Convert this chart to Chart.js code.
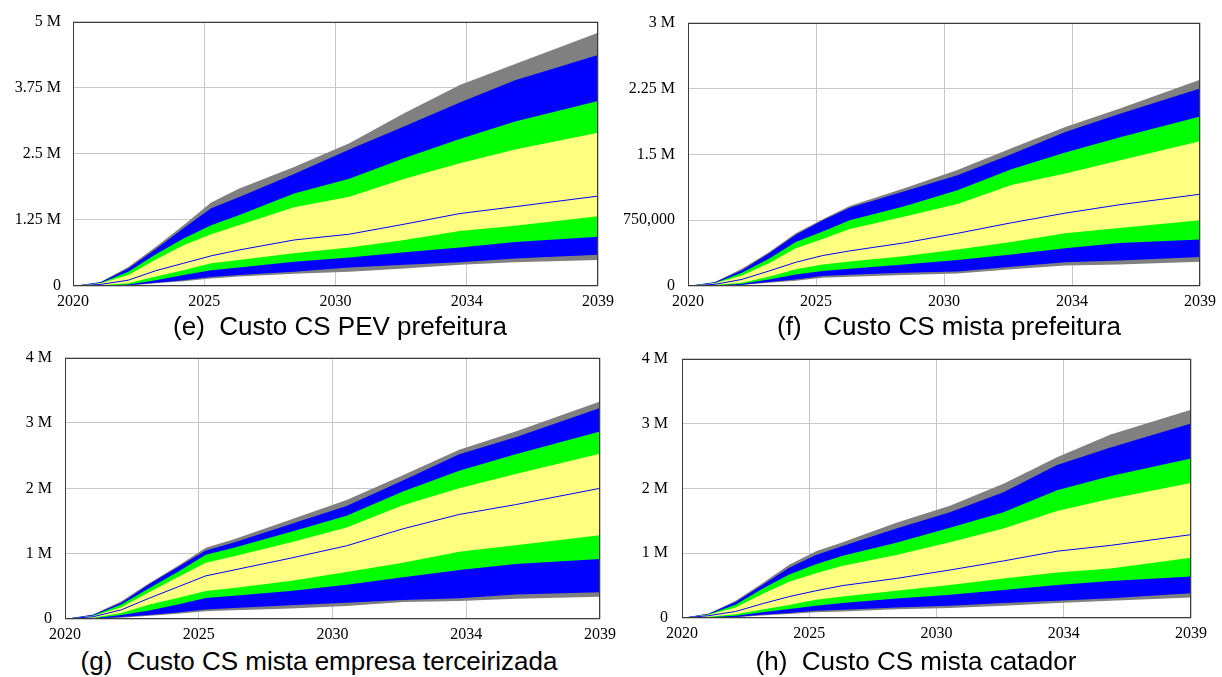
<!DOCTYPE html>
<html>
<head>
<meta charset="utf-8">
<script src="https://cdn.jsdelivr.net/npm/chart.js@4.4.0/dist/chart.umd.min.js"></script>
<style>
    body { margin: 0; background: #fff; width: 1222px; height: 677px; position: relative; overflow: hidden; }
    canvas { position: absolute; }
    .caption {
        position: absolute;
        font-family: 'Liberation Sans', Arial, sans-serif;
        font-size: 26px;
        color: #000;
        white-space: pre;
        transform: translateX(-50%);
        line-height: 28px;
    }
</style>
</head>
<body>
<canvas id="chartE" width="622" height="312" style="left:0px;top:0px"></canvas>
<canvas id="chartF" width="612" height="312" style="left:610px;top:0px"></canvas>
<canvas id="chartG" width="622" height="310" style="left:0px;top:335px"></canvas>
<canvas id="chartH" width="610" height="310" style="left:612px;top:335px"></canvas>

<div class="caption" style="left:340px;top:312px">(e)  Custo CS PEV prefeitura</div>
<div class="caption" style="left:949px;top:312px">(f)   Custo CS mista prefeitura</div>
<div class="caption" style="left:319px;top:647px">(g)  Custo CS mista empresa terceirizada</div>
<div class="caption" style="left:916px;top:647px">(h)  Custo CS mista catador</div>

<script>
// Time points (years) and x tick labels
const years = [2020, 2021, 2022, 2023, 2024, 2025, 2026, 2028, 2030, 2032, 2034, 2036, 2039];
const xTickLabels = ['2020', '2025', '2030', '2034', '2039'];

// (e) Custo CS PEV prefeitura - values in millions
const eMax  = [0, 0.075, 0.36, 0.74, 1.15, 1.58, 1.84, 2.25, 2.70, 3.27, 3.80, 4.20, 4.79];
const eP975 = [0, 0.070, 0.33, 0.70, 1.09, 1.47, 1.68, 2.12, 2.58, 3.02, 3.47, 3.89, 4.37];
const eP875 = [0, 0.057, 0.27, 0.60, 0.90, 1.15, 1.34, 1.75, 2.03, 2.42, 2.78, 3.11, 3.50];
const eP75  = [0, 0.050, 0.21, 0.50, 0.77, 0.98, 1.15, 1.49, 1.69, 2.03, 2.32, 2.58, 2.90];
const eMed  = [0, 0.030, 0.11, 0.29, 0.43, 0.57, 0.68, 0.87, 0.98, 1.17, 1.37, 1.50, 1.70];
const eP25  = [0, 0.013, 0.05, 0.18, 0.30, 0.43, 0.49, 0.62, 0.73, 0.87, 1.04, 1.14, 1.32];
const eP125 = [0, 0.006, 0.03, 0.11, 0.21, 0.30, 0.35, 0.46, 0.54, 0.64, 0.73, 0.83, 0.93];
const eP025 = [0, 0.003, 0.013, 0.06, 0.11, 0.17, 0.21, 0.27, 0.35, 0.40, 0.45, 0.52, 0.59];
const eMin  = [0, 0, 0.006, 0.05, 0.09, 0.14, 0.18, 0.23, 0.27, 0.33, 0.40, 0.45, 0.49];
const eTickLabels = ['0', '1.25 M', '2.5 M', '3.75 M', '5 M'];

// (f) Custo CS mista prefeitura
const fMax  = [0, 0.045, 0.196, 0.385, 0.60, 0.76, 0.91, 1.11, 1.32, 1.57, 1.81, 2.02, 2.35];
const fP975 = [0, 0.042, 0.18, 0.37, 0.585, 0.75, 0.89, 1.075, 1.26, 1.50, 1.755, 1.96, 2.25];
const fP875 = [0, 0.035, 0.15, 0.31, 0.50, 0.62, 0.75, 0.905, 1.09, 1.33, 1.52, 1.69, 1.93];
const fP75  = [0, 0.030, 0.12, 0.26, 0.43, 0.535, 0.65, 0.79, 0.935, 1.15, 1.28, 1.43, 1.65];
const fMed  = [0, 0.019, 0.075, 0.17, 0.27, 0.347, 0.40, 0.49, 0.60, 0.72, 0.83, 0.925, 1.045];
const fP25  = [0, 0.010, 0.038, 0.106, 0.19, 0.245, 0.28, 0.34, 0.415, 0.50, 0.60, 0.66, 0.75];
const fP125 = [0, 0.006, 0.026, 0.075, 0.13, 0.17, 0.196, 0.245, 0.295, 0.36, 0.43, 0.49, 0.53];
const fP025 = [0, 0.003, 0.015, 0.045, 0.075, 0.113, 0.128, 0.15, 0.166, 0.22, 0.27, 0.29, 0.33];
const fMin  = [0, 0.001, 0.011, 0.038, 0.06, 0.094, 0.106, 0.125, 0.143, 0.19, 0.234, 0.245, 0.275];
const fTickLabels = ['0', '750,000', '1.5 M', '2.25 M', '3 M'];

// (g) Custo CS mista empresa terceirizada
const gMax  = [0, 0.070, 0.27, 0.55, 0.81, 1.09, 1.22, 1.52, 1.82, 2.20, 2.59, 2.87, 3.33];
const gP975 = [0, 0.065, 0.25, 0.535, 0.79, 1.05, 1.17, 1.45, 1.73, 2.12, 2.52, 2.78, 3.23];
const gP875 = [0, 0.055, 0.22, 0.475, 0.72, 0.985, 1.09, 1.33, 1.58, 1.95, 2.27, 2.52, 2.87];
const gP75  = [0, 0.045, 0.18, 0.415, 0.64, 0.86, 0.96, 1.17, 1.40, 1.74, 2.00, 2.22, 2.53];
const gMed  = [0, 0.035, 0.14, 0.32, 0.49, 0.66, 0.75, 0.93, 1.12, 1.38, 1.60, 1.75, 2.00];
const gP25  = [0, 0.020, 0.09, 0.22, 0.32, 0.43, 0.475, 0.58, 0.72, 0.86, 1.03, 1.13, 1.28];
const gP125 = [0, 0.012, 0.06, 0.13, 0.22, 0.32, 0.356, 0.43, 0.525, 0.64, 0.75, 0.84, 0.92];
const gP025 = [0, 0.005, 0.03, 0.06, 0.10, 0.145, 0.17, 0.21, 0.25, 0.29, 0.317, 0.376, 0.41];
const gMin  = [0, 0.003, 0.02, 0.05, 0.08, 0.12, 0.134, 0.16, 0.20, 0.26, 0.277, 0.31, 0.34];
const gTickLabels = ['0', '1 M', '2 M', '3 M', '4 M'];

// (h) Custo CS mista catador
const hMax  = [0, 0.070, 0.265, 0.535, 0.82, 1.03, 1.17, 1.47, 1.73, 2.07, 2.48, 2.83, 3.21];
const hP975 = [0, 0.066, 0.245, 0.51, 0.775, 0.97, 1.11, 1.38, 1.63, 1.94, 2.36, 2.63, 3.00];
const hP875 = [0, 0.056, 0.204, 0.45, 0.67, 0.83, 0.96, 1.16, 1.39, 1.63, 1.97, 2.19, 2.46];
const hP75  = [0, 0.050, 0.163, 0.37, 0.56, 0.69, 0.806, 0.97, 1.17, 1.38, 1.65, 1.84, 2.08];
const hMed  = [0, 0.036, 0.10, 0.22, 0.33, 0.42, 0.50, 0.61, 0.74, 0.88, 1.03, 1.12, 1.285];
const hP25  = [0, 0.020, 0.056, 0.13, 0.20, 0.28, 0.33, 0.42, 0.51, 0.61, 0.70, 0.765, 0.93];
const hP125 = [0, 0.012, 0.036, 0.087, 0.14, 0.19, 0.23, 0.30, 0.36, 0.43, 0.51, 0.57, 0.64];
const hP025 = [0, 0.005, 0.015, 0.05, 0.077, 0.11, 0.128, 0.163, 0.19, 0.23, 0.265, 0.306, 0.38];
const hMin  = [0, 0.002, 0.01, 0.04, 0.06, 0.09, 0.10, 0.133, 0.153, 0.19, 0.23, 0.265, 0.316];
const hTickLabels = ['0', '1 M', '2 M', '3 M', '4 M'];

const GRAY = '#808080';
const BLUE = '#0000ff';
const GREEN = '#00ff00';
const YELLOW = '#ffff80';
const AXIS_FONT = { family: "'Liberation Serif', 'Times New Roman', serif", size: 16 };

/**
 * Draws the box around the plot area
 */
const framePlugin = {
    id: 'frame',
    afterDraw(chart) {
        const a = chart.chartArea;
        const ctx = chart.ctx;
        ctx.save();
        ctx.strokeStyle = '#3c3c3c';
        ctx.lineWidth = 1;
        ctx.strokeRect(Math.round(a.left) + 0.5, Math.round(a.top) + 0.5,
            Math.round(a.right - a.left) - 1, Math.round(a.bottom - a.top) - 1);
        ctx.restore();
    }
};

function points(values) {
    return values.map((v, i) => ({ x: years[i], y: v }));
}

// one band = upper line filled down to the lower line
function band(upper, lower, color, order, lowerIndex) {
    return [
        { data: points(upper), backgroundColor: color, borderWidth: 0, pointRadius: 0,
          fill: { target: lowerIndex }, order: order },
        { data: points(lower), backgroundColor: color, borderWidth: 0, pointRadius: 0,
          fill: false, order: order }
    ];
}

function buildBandChart(canvasId, s, yMax, yLabels, box) {
    const datasets = [
        { data: points(s.med), borderColor: BLUE, borderWidth: 1, pointRadius: 0, fill: false, order: 0 },
        ...band(s.p75, s.p25, YELLOW, 1, 2),
        ...band(s.p875, s.p125, GREEN, 2, 4),
        ...band(s.p975, s.p025, BLUE, 3, 6),
        ...band(s.max, s.min, GRAY, 4, 8)
    ];

    new Chart(document.getElementById(canvasId), {
        type: 'line',
        data: { datasets: datasets },
        plugins: [framePlugin],
        options: {
            responsive: false,
            animation: false,
            layout: { padding: { left: 0, top: box.top, right: box.right, bottom: 0 } },
            plugins: { legend: { display: false }, tooltip: { enabled: false } },
            elements: { line: { tension: 0 } },
            scales: {
                x: {
                    type: 'linear',
                    min: 2020,
                    max: 2039,
                    z: 1,
                    border: { display: false },
                    grid: { color: '#c8c8c8', drawTicks: false, lineWidth: 1 },
                    afterBuildTicks: scale => {
                        scale.ticks = xTickLabels.map((l, i) => ({ value: 2020 + i * (2039 - 2020) / 4 }));
                    },
                    afterFit: scale => { scale.height = box.xHeight; },
                    ticks: {
                        autoSkip: false,
                        maxRotation: 0,
                        padding: 6,
                        color: '#000',
                        font: AXIS_FONT,
                        callback: (value, index) => xTickLabels[index]
                    }
                },
                y: {
                    min: 0,
                    max: yMax,
                    z: 1,
                    border: { display: false },
                    grid: { color: '#c8c8c8', drawTicks: false, lineWidth: 1 },
                    afterBuildTicks: scale => {
                        scale.ticks = yLabels.map((l, i) => ({ value: i * yMax / 4 }));
                    },
                    afterFit: scale => { scale.width = box.yWidth; },
                    ticks: {
                        padding: box.labelPad,
                        color: '#000',
                        font: AXIS_FONT,
                        callback: (value, index) => yLabels[index]
                    }
                }
            }
        }
    });
}

document.addEventListener('DOMContentLoaded', function() {
    buildBandChart('chartE',
        { max: eMax, p975: eP975, p875: eP875, p75: eP75, med: eMed, p25: eP25, p125: eP125, p025: eP025, min: eMin },
        5, eTickLabels, { top: 19, right: 24, yWidth: 73, xHeight: 26, labelPad: 12 });

    buildBandChart('chartF',
        { max: fMax, p975: fP975, p875: fP875, p75: fP75, med: fMed, p25: fP25, p125: fP125, p025: fP025, min: fMin },
        3, fTickLabels, { top: 20, right: 18, yWidth: 78, xHeight: 26, labelPad: 13 });

    buildBandChart('chartG',
        { max: gMax, p975: gP975, p875: gP875, p75: gP75, med: gMed, p25: gP25, p125: gP125, p025: gP025, min: gMin },
        4, gTickLabels, { top: 15, right: 20, yWidth: 65, xHeight: 26, labelPad: 13 });

    buildBandChart('chartH',
        { max: hMax, p975: hP975, p875: hP875, p75: hP75, med: hMed, p25: hP25, p125: hP125, p025: hP025, min: hMin },
        4, hTickLabels, { top: 22, right: 31, yWidth: 70, xHeight: 27, labelPad: 14 });
});
</script>
</body>
</html>
